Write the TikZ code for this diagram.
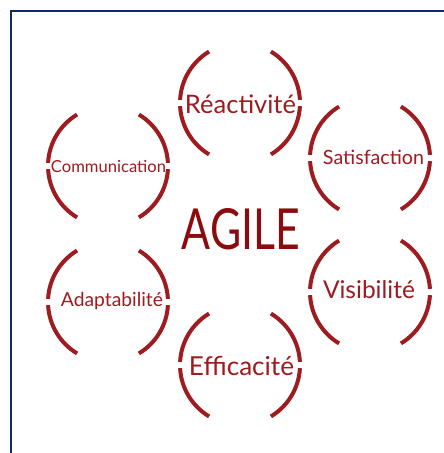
\documentclass[tikz,border=0pt]{standalone}
\usepackage{fontspec}
\setmainfont{Lato}
\definecolor{agred}{RGB}{158,27,32}
\definecolor{agdark}{RGB}{140,12,14}
\definecolor{navyb}{RGB}{16,42,104}
\begin{document}
\begin{tikzpicture}[x=1pt,y=-1pt,
  ring/.style={draw=agred,line width=4pt},
  lbl/.style={text=agred,inner sep=0pt,anchor=base}]
\useasboundingbox (0,0) rectangle (444,453);
\clip (0,0) rectangle (444,453);
\fill[white] (0,0) rectangle (444,453);
\draw[navyb,line width=2.2pt] (11,470) -- (11,11) -- (460,11);
\foreach \n/\x/\y in {rea/240/103, sat/370/158, com/108/166, ada/108/302, vis/370/292, eff/240/365} {
  \coordinate (\n) at (\x,\y);
  \draw[ring] (\n) ++(121:60) arc (121:177:60);
  \draw[ring] (\n) ++(183:60) arc (183:239:60);
  \draw[ring] (\n) ++(59:60) arc (59:3:60);
  \draw[ring] (\n) ++(-3:60) arc (-3:-59:60);
}
\node[lbl] (trea) at (240.5,113) {\resizebox{111pt}{!}{Réactivité}};
\node[lbl] (tsat) at (373.5,164) {\resizebox{101pt}{!}{Satisfaction}};
\node[lbl] (tcom) at (108.5,172) {\resizebox{115pt}{!}{Communication}};
\node[lbl] (tada) at (112,306) {\resizebox{102pt}{!}{Adaptabilité}};
\node[lbl] (tvis) at (369,298) {\resizebox{92pt}{!}{Visibilité}};
\node[lbl] (teff) at (241.5,375) {\resizebox{105pt}{!}{Efficacité}};
\node[text=agdark,inner sep=0pt] (agile) at (241,229.5) {\resizebox{118pt}{41pt}{AGILE}};
\end{tikzpicture}
\end{document}
